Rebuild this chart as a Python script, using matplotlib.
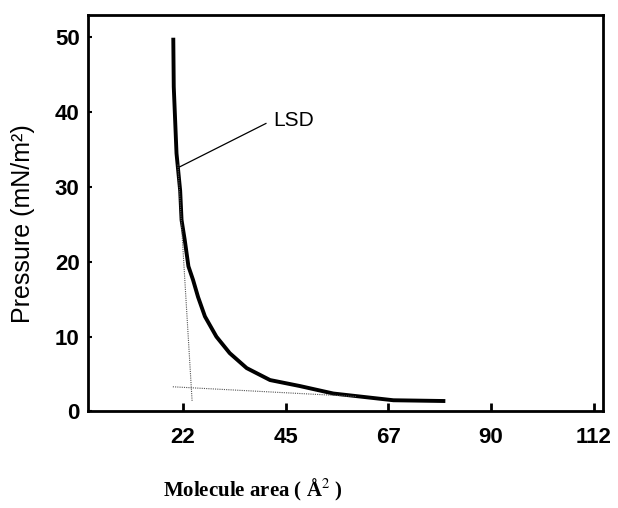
import matplotlib
matplotlib.use("Agg")
import matplotlib.pyplot as plt

# isotherm of LSD
area = [20.3, 20.4, 21.0, 21.8, 22.1, 22.8, 23.6, 24.6, 25.7, 27.2, 29.7, 32.6,
        36.3, 41.4, 47.9, 55.2, 61.0, 68.3, 79.2]
pressure = [49.7, 43.4, 34.5, 29.5, 25.6, 22.9, 19.4, 17.6, 15.3, 12.7, 10.0, 7.8,
            5.8, 4.2, 3.4, 2.4, 2.0, 1.5, 1.4]

# tangent lines (dotted)
steep_area = [21.3, 24.4]
steep_pressure = [33.0, 1.4]
flat_area = [20.2, 60.3]
flat_pressure = [3.3, 2.0]

xticks = [22.4, 44.8, 67.2, 89.6, 112.0]
xtick_labels = ["22", "45", "67", "90", "112"]
yticks = [0, 10, 20, 30, 40, 50]

plt.rcParams["mathtext.fontset"] = "stix"

fig = plt.figure(figsize=(6.18, 5.08), dpi=100)
ax = fig.add_axes([0.1424, 0.19, 0.8333, 0.7805])

ax.plot(area, pressure, color="black", linewidth=2.8, solid_joinstyle="round")
ax.plot(steep_area, steep_pressure, color="#555555", linewidth=0.8, linestyle=(0, (1, 1)))
ax.plot(flat_area, flat_pressure, color="#555555", linewidth=0.8, linestyle=(0, (1, 1)))

# label with leader line
ax.plot([21.7, 40.5], [32.7, 38.5], color="black", linewidth=0.9)
ax.text(42.0, 38.9, "LSD", fontsize=15, family="Liberation Sans", va="center", ha="left")

ax.set_xlim(1.7, 114)
ax.set_ylim(0, 53)
ax.set_xticks(xticks)
ax.set_xticklabels(xtick_labels)
ax.set_yticks(yticks)

for s in ax.spines.values():
    s.set_linewidth(2.0)

ax.tick_params(axis="x", direction="in", length=6, width=2, pad=11)
ax.tick_params(axis="y", direction="in", length=3, width=1.5, pad=6)
for lab in ax.get_xticklabels() + ax.get_yticklabels():
    lab.set_family("Liberation Sans")
    lab.set_fontweight("bold")
    lab.set_fontsize(16)

fig.text(0.037, 0.56, "Pressure (mN/m²)", rotation=90, fontsize=18,
         family="Liberation Sans", ha="center", va="center")

fig.text(0.41, 0.035, "Molecule area ( Å$^{2}$ )", fontsize=15,
         family="Liberation Serif", fontweight="bold", ha="center", va="center")

fig.savefig("out.png", dpi=100, facecolor="white")
